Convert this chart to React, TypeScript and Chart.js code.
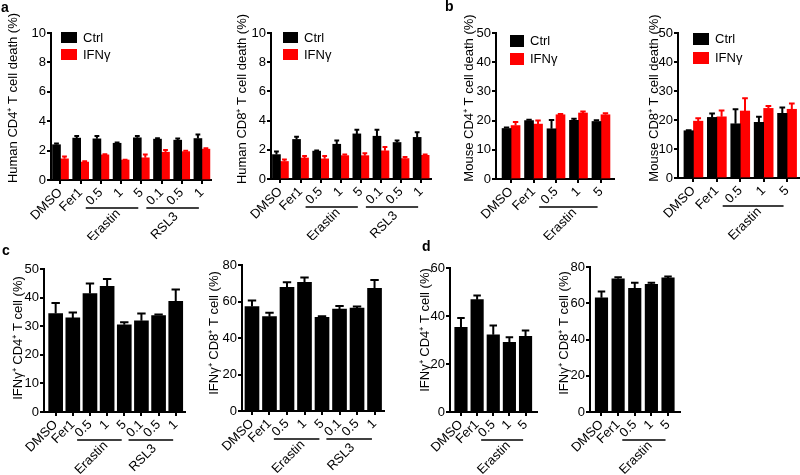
import React, { useEffect, useRef } from 'react';
import { Chart, registerables } from 'chart.js';

Chart.register(...registerables);

const FONT = "'Liberation Sans', Arial, Helvetica, sans-serif";
Chart.defaults.font.family = FONT;
Chart.defaults.color = '#000';

// ---------- categories ----------
const humanCategories = ['DMSO', 'Fer1', '0.5', '1', '5', '0.1', '0.5', '1'];
const mouseCategories = ['DMSO', 'Fer1', '0.5', '1', '5'];
const seriesNames = ['Ctrl', 'IFNγ'];

// ---------- a: human T cell death (%) ----------
const humanCD4Ctrl = [2.4, 2.85, 2.8, 2.5, 2.87, 2.78, 2.71, 2.82];
const humanCD4CtrlErr = [0.08, 0.15, 0.2, 0.05, 0.13, 0.06, 0.12, 0.28];
const humanCD4Ifn = [1.44, 1.22, 1.71, 1.36, 1.51, 1.89, 1.93, 2.1];
const humanCD4IfnErr = [0.16, 0.06, 0.05, 0.02, 0.22, 0.15, 0.06, 0.06];

const humanCD8Ctrl = [1.67, 2.71, 1.91, 2.38, 3.09, 2.93, 2.5, 2.85];
const humanCD8CtrlErr = [0.22, 0.18, 0.04, 0.26, 0.29, 0.45, 0.14, 0.35];
const humanCD8Ifn = [1.2, 1.44, 1.38, 1.6, 1.6, 1.93, 1.4, 1.62];
const humanCD8IfnErr = [0.13, 0.14, 0.2, 0.08, 0.16, 0.27, 0.1, 0.06];

// ---------- b: mouse T cell death (%) ----------
const mouseCD4Ctrl = [17.3, 20.0, 17.2, 20.1, 19.7];
const mouseCD4CtrlErr = [0.3, 0.3, 3.0, 0.5, 0.4];
const mouseCD4Ifn = [18.3, 18.8, 22.0, 22.6, 22.0];
const mouseCD4IfnErr = [1.2, 1.2, 0.3, 0.5, 0.5];

const mouseCD8Ctrl = [16.3, 20.9, 18.7, 19.2, 22.3];
const mouseCD8CtrlErr = [0.2, 1.3, 5.0, 1.9, 2.0];
const mouseCD8Ifn = [19.6, 21.1, 23.1, 24.0, 23.7];
const mouseCD8IfnErr = [1.0, 2.2, 4.4, 0.8, 2.0];

// ---------- c: human IFNγ+ T cells (%) ----------
const humanIfnCD4 = [34.4, 32.9, 41.4, 43.9, 30.5, 31.9, 33.7, 38.7];
const humanIfnCD4Err = [3.7, 1.9, 3.5, 2.6, 0.9, 2.5, 0.35, 4.1];
const humanIfnCD8 = [57.2, 51.7, 67.8, 70.5, 51.3, 55.9, 56.4, 67.2];
const humanIfnCD8Err = [3.3, 2.2, 2.7, 2.7, 0.6, 1.6, 0.8, 4.6];

// ---------- d: mouse IFNγ+ T cells (%) ----------
const mouseIfnCD4 = [35.3, 46.8, 32.2, 29.0, 31.5];
const mouseIfnCD4Err = [3.9, 1.7, 3.8, 2.1, 2.5];
const mouseIfnCD8 = [63.0, 73.5, 68.3, 70.5, 74.0];
const mouseIfnCD8Err = [3.5, 0.8, 3.0, 0.8, 0.7];

const BLACK = '#000000';
const RED = '#ff0000';

type Series = { label: string; values: number[]; errors: number[]; color: string };
type Group = { label: string; from: number; to: number };
type PanelCfg = {
  key: string;
  categories: string[];
  series: Series[];
  yMax: number;
  yStep: number;
  title: string;
  groups: Group[];
  legend: null | { dx: number; dy: number; w: number; h: number; gap: number };
  canvas: [number, number, number, number];
  area: [number, number, number, number];
  xRange: [number, number];
  barThickness: number;
  titlePos: [number, number];
};

const humanGroups: Group[] = [
  { label: 'Erastin', from: 2, to: 4 },
  { label: 'RSL3', from: 5, to: 7 },
];
const mouseGroups: Group[] = [{ label: 'Erastin', from: 2, to: 4 }];

const panels: PanelCfg[] = [
  {
    key: 'a1', categories: humanCategories,
    series: [
      { label: seriesNames[0], values: humanCD4Ctrl, errors: humanCD4CtrlErr, color: BLACK },
      { label: seriesNames[1], values: humanCD4Ifn, errors: humanCD4IfnErr, color: RED },
    ],
    yMax: 10, yStep: 2, title: 'Human CD4⁺ T cell death (%)', groups: humanGroups,
    legend: { dx: 10, dy: -1, w: 16, h: 11, gap: 17 },
    canvas: [0, 0, 230, 240], area: [51, 33, 211, 180], xRange: [-0.47, 7.45], barThickness: 8,
    titlePos: [13, 98],
  },
  {
    key: 'a2', categories: humanCategories,
    series: [
      { label: seriesNames[0], values: humanCD8Ctrl, errors: humanCD8CtrlErr, color: BLACK },
      { label: seriesNames[1], values: humanCD8Ifn, errors: humanCD8IfnErr, color: RED },
    ],
    yMax: 10, yStep: 2, title: 'Human CD8⁺ T cell death (%)', groups: humanGroups,
    legend: { dx: 12, dy: -1, w: 15, h: 11, gap: 17 },
    canvas: [225, 0, 225, 240], area: [271, 33, 431, 179], xRange: [-0.47, 7.49], barThickness: 8,
    titlePos: [242, 99],
  },
  {
    key: 'b1', categories: mouseCategories,
    series: [
      { label: seriesNames[0], values: mouseCD4Ctrl, errors: mouseCD4CtrlErr, color: BLACK },
      { label: seriesNames[1], values: mouseCD4Ifn, errors: mouseCD4IfnErr, color: RED },
    ],
    yMax: 50, yStep: 10, title: 'Mouse CD4⁺ T cell death (%)', groups: mouseGroups,
    legend: { dx: 14, dy: 2, w: 14, h: 12, gap: 18 },
    canvas: [450, 0, 185, 240], area: [496, 33, 614, 179], xRange: [-0.67, 4.58], barThickness: 9,
    titlePos: [469, 98],
  },
  {
    key: 'b2', categories: mouseCategories,
    series: [
      { label: seriesNames[0], values: mouseCD8Ctrl, errors: mouseCD8CtrlErr, color: BLACK },
      { label: seriesNames[1], values: mouseCD8Ifn, errors: mouseCD8IfnErr, color: RED },
    ],
    yMax: 50, yStep: 10, title: 'Mouse CD8⁺ T cell death (%)', groups: mouseGroups,
    legend: { dx: 15, dy: 0, w: 16, h: 12, gap: 19 },
    canvas: [635, 0, 185, 240], area: [678, 33, 799, 178], xRange: [-0.66, 4.51], barThickness: 9.5,
    titlePos: [654, 98],
  },
  {
    key: 'c1', categories: humanCategories,
    series: [{ label: 'IFNγ⁺ CD4⁺', values: humanIfnCD4, errors: humanIfnCD4Err, color: BLACK }],
    yMax: 50, yStep: 10, title: 'IFNγ⁺ CD4⁺ T cell (%)', groups: humanGroups, legend: null,
    canvas: [0, 240, 205, 235], area: [44, 269, 185, 412], xRange: [-0.68, 7.54], barThickness: 14,
    titlePos: [18, 338],
  },
  {
    key: 'c2', categories: humanCategories,
    series: [{ label: 'IFNγ⁺ CD8⁺', values: humanIfnCD8, errors: humanIfnCD8Err, color: BLACK }],
    yMax: 80, yStep: 20, title: 'IFNγ⁺ CD8⁺ T cell (%)', groups: humanGroups, legend: null,
    canvas: [200, 240, 205, 235], area: [242, 265, 384, 411], xRange: [-0.57, 7.54], barThickness: 14,
    titlePos: [214, 333],
  },
  {
    key: 'd1', categories: mouseCategories,
    series: [{ label: 'IFNγ⁺ CD4⁺', values: mouseIfnCD4, errors: mouseIfnCD4Err, color: BLACK }],
    yMax: 60, yStep: 20, title: 'IFNγ⁺ CD4⁺ T cell (%)', groups: mouseGroups, legend: null,
    canvas: [410, 240, 145, 235], area: [450, 268, 537, 412], xRange: [-0.68, 4.71], barThickness: 12.5,
    titlePos: [425, 330],
  },
  {
    key: 'd2', categories: mouseCategories,
    series: [{ label: 'IFNγ⁺ CD8⁺', values: mouseIfnCD8, errors: mouseIfnCD8Err, color: BLACK }],
    yMax: 80, yStep: 20, title: 'IFNγ⁺ CD8⁺ T cell (%)', groups: mouseGroups, legend: null,
    canvas: [555, 240, 145, 235], area: [590, 267, 680, 412], xRange: [-0.69, 4.72], barThickness: 12.5,
    titlePos: [564, 333],
  },
];

function makePlugins(p: PanelCfg) {
  const [cx, cy] = p.canvas;
  return [
    {
      id: 'errorBars',
      afterDatasetsDraw(chart: any) {
        const ctx = chart.ctx;
        const yScale = chart.scales.y;
        chart.data.datasets.forEach((ds: any, i: number) => {
          const meta = chart.getDatasetMeta(i);
          meta.data.forEach((bar: any, j: number) => {
            const v = ds.data[j].y;
            const e = ds.errors[j];
            const top = yScale.getPixelForValue(v + e);
            const half = bar.width * 0.3;
            ctx.save();
            ctx.strokeStyle = ds.backgroundColor;
            ctx.lineWidth = 2;
            ctx.beginPath();
            ctx.moveTo(bar.x, bar.y);
            ctx.lineTo(bar.x, top);
            ctx.moveTo(bar.x - half, top);
            ctx.lineTo(bar.x + half, top);
            ctx.stroke();
            ctx.restore();
          });
        });
      },
    },
    {
      id: 'annotations',
      afterDraw(chart: any) {
        const ctx = chart.ctx;
        const x = chart.scales.x;
        const area = chart.chartArea;
        const pitch = x.getPixelForValue(1) - x.getPixelForValue(0);
        ctx.save();
        // group underlines + labels
        p.groups.forEach((g) => {
          const x1 = x.getPixelForValue(g.from) - 0.75 * pitch;
          const x2 = x.getPixelForValue(g.to) - 0.15 * pitch;
          const ly = area.bottom + 28;
          ctx.strokeStyle = '#000';
          ctx.lineWidth = 1.6;
          ctx.beginPath();
          ctx.moveTo(x1, ly);
          ctx.lineTo(x2, ly);
          ctx.stroke();
          ctx.save();
          ctx.translate((x1 + x2) / 2 - 8, ly + 18);
          ctx.rotate(-Math.PI / 4);
          ctx.fillStyle = '#000';
          ctx.font = `13px ${FONT}`;
          ctx.textAlign = 'center';
          ctx.textBaseline = 'middle';
          ctx.fillText(g.label, 0, 0);
          ctx.restore();
        });
        // y title
        ctx.save();
        ctx.translate(p.titlePos[0] - cx, p.titlePos[1] - cy);
        ctx.rotate(-Math.PI / 2);
        ctx.fillStyle = '#000';
        ctx.font = `13px ${FONT}`;
        ctx.textAlign = 'center';
        ctx.textBaseline = 'middle';
        ctx.fillText(p.title, 0, 0);
        ctx.restore();
        // legend
        if (p.legend) {
          const lg = p.legend;
          chart.data.datasets.forEach((ds: any, i: number) => {
            const bx = area.left + lg.dx;
            const by = area.top + lg.dy + i * lg.gap;
            ctx.fillStyle = ds.backgroundColor;
            ctx.fillRect(bx, by, lg.w, lg.h);
            ctx.fillStyle = '#000';
            ctx.font = `13px ${FONT}`;
            ctx.textAlign = 'left';
            ctx.textBaseline = 'middle';
            ctx.fillText(ds.label, bx + lg.w + 6, by + lg.h / 2 + 0.5);
          });
        }
        ctx.restore();
      },
    },
  ];
}

function Panel({ p }: { p: PanelCfg }) {
  const ref = useRef<HTMLCanvasElement | null>(null);
  useEffect(() => {
    if (!ref.current) return;
    const [cx, cy, cw, ch] = p.canvas;
    const [L, T, R, B] = p.area;
    const wy = L - cx;
    const padT = T - cy;
    const padR = cx + cw - R;
    const hx = cy + ch - B;
    const axisGrid = {
      display: true,
      drawOnChartArea: false,
      drawTicks: true,
      tickLength: 4,
      color: '#000',
      lineWidth: 2,
      offset: false,
    };
    const chart = new Chart(ref.current, {
      type: 'bar',
      data: {
        datasets: p.series.map((s) => ({
          label: s.label,
          data: s.values.map((v, i) => ({ x: i, y: v })),
          errors: s.errors,
          backgroundColor: s.color,
          borderWidth: 0,
          barThickness: p.barThickness,
        })) as any,
      },
      options: {
        animation: false,
        responsive: false,
        maintainAspectRatio: false,
        devicePixelRatio: 1,
        events: [],
        layout: { padding: { left: 0, top: padT, right: padR, bottom: 0 } },
        plugins: { legend: { display: false }, tooltip: { enabled: false } },
        scales: {
          x: {
            type: 'linear',
            min: p.xRange[0],
            max: p.xRange[1],
            offset: false,
            afterBuildTicks: (s: any) => {
              s.ticks = p.categories.map((_, i) => ({ value: i }));
            },
            afterFit: (s: any) => {
              s.height = hx;
            },
            ticks: {
              autoSkip: false,
              minRotation: 45,
              maxRotation: 45,
              color: '#000',
              font: { size: 13, family: FONT },
              padding: 1,
              callback: (v: any) => p.categories[v as number],
            },
            grid: axisGrid,
            border: { display: true, color: '#000', width: 2 },
          },
          y: {
            min: 0,
            max: p.yMax,
            afterFit: (s: any) => {
              s.width = wy;
            },
            ticks: { stepSize: p.yStep, color: '#000', font: { size: 13, family: FONT }, padding: 1 },
            grid: axisGrid,
            border: { display: true, color: '#000', width: 2 },
          },
        },
      } as any,
      plugins: makePlugins(p) as any,
    });
    return () => chart.destroy();
  }, [p]);
  const [cx, cy, cw, ch] = p.canvas;
  return (
    <canvas
      ref={ref}
      width={cw}
      height={ch}
      style={{ position: 'absolute', left: cx, top: cy, width: cw, height: ch }}
    />
  );
}

const letterStyle: React.CSSProperties = {
  position: 'absolute',
  font: `bold 14px ${FONT}`,
  lineHeight: '14px',
  color: '#000',
};

export default function App() {
  return (
    <div
      style={{
        position: 'absolute',
        left: 0,
        top: 0,
        width: 800,
        height: 475,
        overflow: 'hidden',
        background: '#fff',
      }}
    >
      {panels.map((p) => (
        <Panel key={p.key} p={p} />
      ))}
      <div style={{ ...letterStyle, left: 1, top: 0 }}>a</div>
      <div style={{ ...letterStyle, left: 445, top: -1 }}>b</div>
      <div style={{ ...letterStyle, left: 2, top: 243 }}>c</div>
      <div style={{ ...letterStyle, left: 422, top: 239 }}>d</div>
    </div>
  );
}
